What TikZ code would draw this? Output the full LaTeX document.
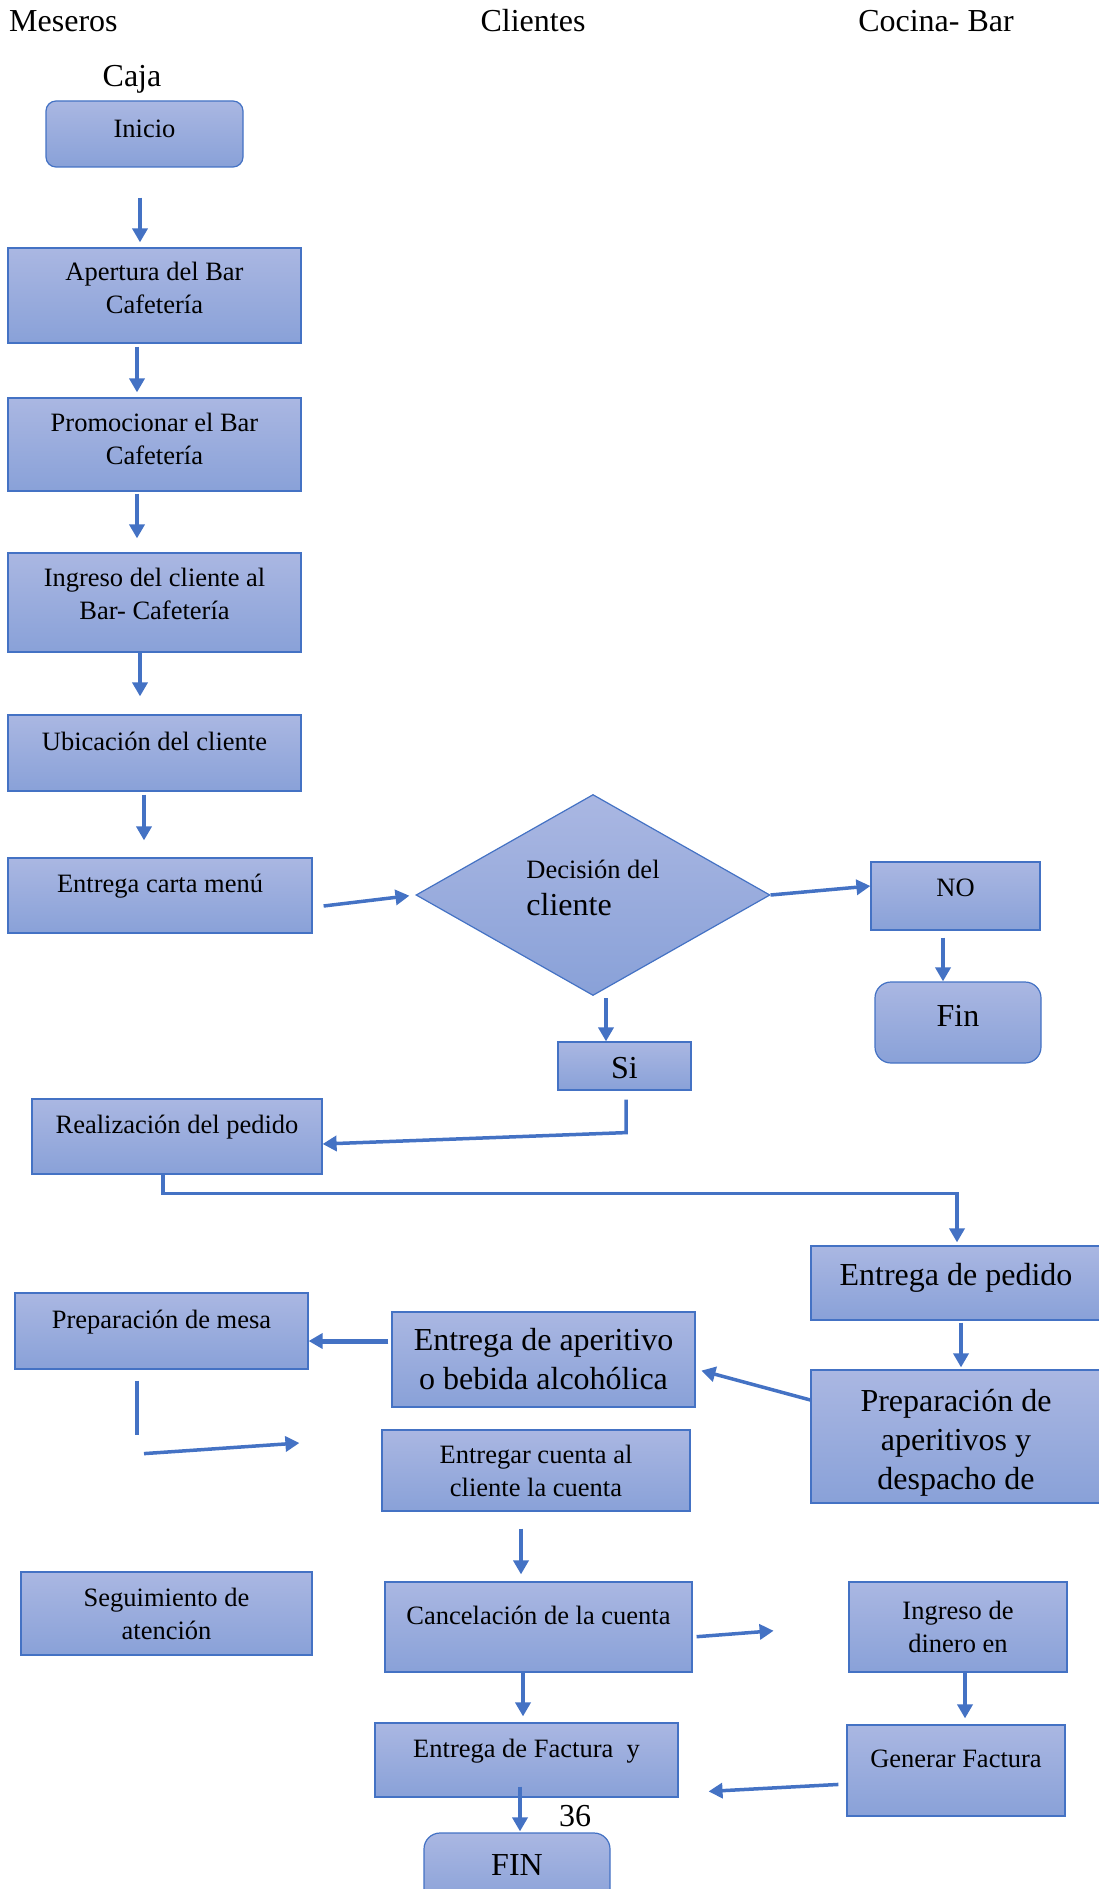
\documentclass[tikz,border=0pt]{standalone}
\usepackage{fontspec}
\setmainfont{Liberation Serif}
\usepackage{tikz}
\usetikzlibrary{arrows.meta, positioning, calc, shapes.geometric}
\usepackage{xcolor}
\definecolor{boxline}{RGB}{68,114,196}
\definecolor{boxtop}{RGB}{170,183,226}
\definecolor{boxbot}{RGB}{137,161,216}
\newcommand{\smalltxt}{\fontsize{26.5}{33}\selectfont}
\newcommand{\bigtxt}{\fontsize{32}{39}\selectfont}

\tikzset{
  proc/.style={draw=boxline, line width=1.2pt, top color=boxtop, bottom color=boxbot,
    inner sep=0pt, align=center, font=\smalltxt},
  term/.style={proc, rounded corners=12pt},
  uptext/.style={text height=19pt, text depth=25pt},
  flow/.style={draw=boxline, line width=3.5pt, -{Triangle[length=14pt,width=15pt]}},
  lane/.style={font=\bigtxt, inner sep=0pt, anchor=base}
}

\begin{document}
\begin{tikzpicture}[x=1pt, y=-1pt]
  \useasboundingbox (0,0) rectangle (1099,1889);

  % encabezados
  \node[lane, anchor=base west] (meseros) at (9,32) {Meseros};
  \node[lane] (clientes) at (533,32) {Clientes};
  \node[lane] (cocina) at (936,32) {Cocina- Bar};
  \node[lane] (caja) at (132,87) {Caja};

  % columna izquierda
  \node[term, rounded corners=10pt, minimum width=197pt, minimum height=66pt, text height=18pt, text depth=10pt] (inicio) at (144.5,134) {Inicio};
  \node[proc, minimum width=293pt, minimum height=95pt, text height=51pt, text depth=16pt] (apertura) at (154.5,295.5) {Apertura del Bar\\Cafetería};
  \node[proc, minimum width=293pt, minimum height=93pt, text height=51pt, text depth=12pt] (promo) at (154.5,444.5) {Promocionar el Bar\\Cafetería};
  \node[proc, minimum width=293pt, minimum height=99pt, text height=51pt, text depth=18pt] (ingreso) at (154.5,602.5) {Ingreso del cliente al\\Bar- Cafetería};
  \node[proc, uptext, minimum width=293pt, minimum height=76pt] (ubicacion) at (154.5,753) {Ubicación del cliente};
  \node[proc, uptext, minimum width=304pt, minimum height=75pt] (carta) at (160,895.5) {Entrega carta menú};

  % decision
  \node[proc, diamond, aspect=1.76, minimum width=354pt, minimum height=201pt, align=left, text height=55pt, text depth=15pt] (decision) at (593,895) {Decisión del\\[4pt]\bigtxt cliente};
  \node[proc, minimum width=169pt, minimum height=68pt, text height=19pt, text depth=19pt] (no) at (955.5,896) {NO};
  \node[term, font=\bigtxt, rounded corners=16pt, minimum width=166pt, minimum height=81pt, text height=21pt, text depth=14pt] (fin) at (958,1022.5) {Fin};
  \node[proc, font=\bigtxt, minimum width=133pt, minimum height=48pt, text height=30pt, text depth=5pt] (si) at (624.5,1066) {Si};

  % pedido
  \node[proc, uptext, minimum width=290pt, minimum height=75pt] (realizacion) at (177,1136.5) {Realización del pedido};
  \node[proc, font=\bigtxt, text height=22pt, text depth=18pt, minimum width=290pt, minimum height=74pt] (pedido) at (956,1283) {Entrega de pedido};
  \node[proc, uptext, minimum width=293pt, minimum height=76pt] (mesa) at (161.5,1331) {Preparación de mesa};
  \node[proc, font=\bigtxt, minimum width=303pt, minimum height=95pt] (aperitivo) at (543.5,1359.5) {Entrega de aperitivo\\o bebida alcohólica};
  \node[proc, font=\bigtxt, minimum width=290pt, minimum height=133pt, text height=110pt, text depth=5pt] (prepaper) at (956,1436.5) {Preparación de\\aperitivos y\\despacho de};
  \node[proc, minimum width=308pt, minimum height=81pt] (cuenta) at (536,1470.5) {Entregar cuenta al\\cliente la cuenta};

  % cobro
  \node[proc, minimum width=291pt, minimum height=83pt] (seguimiento) at (166.5,1613.5) {Seguimiento de\\atención};
  \node[proc, uptext, minimum width=307pt, minimum height=90pt] (cancelacion) at (538.5,1627) {Cancelación de la cuenta};
  \node[proc, minimum width=218pt, minimum height=90pt] (dinero) at (958,1627) {Ingreso de\\dinero en};
  \node[proc, uptext, minimum width=218pt, minimum height=91pt] (generar) at (956,1770.5) {Generar Factura};
  \node[proc, uptext, minimum width=303pt, minimum height=74pt] (factura) at (526.5,1760) {Entrega de Factura\ \ y};
  \node[term, font=\bigtxt, rounded corners=16pt, minimum width=186pt, minimum height=72pt, text height=21pt, text depth=9pt] (finend) at (517,1869) {FIN};
  \node[lane] (pagina) at (575,1826) {36};

  % flechas
  \draw[flow, shorten <=30pt, shorten >=5pt] ([xshift=-4.5pt]inicio.south) -- ([xshift=-14.5pt]apertura.north);
  \draw[flow, shorten <=3pt, shorten >=5pt] ([xshift=-17.5pt]apertura.south) -- ([xshift=-17.5pt]promo.north);
  \draw[flow, shorten <=2pt, shorten >=14pt] ([xshift=-17.5pt]promo.south) -- ([xshift=-17.5pt]ingreso.north);
  \draw[flow, shorten >=18pt] ([xshift=-14.5pt]ingreso.south) -- ([xshift=-14.5pt]ubicacion.north);
  \draw[flow, shorten <=3pt, shorten >=17pt] ([xshift=-10.5pt]ubicacion.south) -- ([xshift=-16pt]carta.north);
  \draw[flow, shorten >=6pt] ([shift={(11pt,-10.5pt)}]carta.east) -- (decision.west);
  \draw[flow] (decision.east) -- ([yshift=10pt]no.west);
  \draw[flow, shorten <=7pt] ([xshift=-12.5pt]no.south) -- ([xshift=-15pt]fin.north);
  \draw[flow, shorten <=2pt] ([xshift=13pt]decision.south) -- ([xshift=-18.5pt]si.north);
  \draw[flow, shorten <=9pt] ([xshift=1.5pt]si.south) -- ++(0,42) -- ([yshift=-7.5pt]realizacion.east);
  \draw[flow, shorten >=3pt] ([xshift=-14pt]realizacion.south) -- ++(0,19) -| ([xshift=1pt]pedido.north);
  \draw[flow, shorten <=2pt, shorten >=2pt] ([xshift=5pt]pedido.south) -- ([xshift=5pt]prepaper.north);
  \draw[flow, shorten >=6pt] ([yshift=36.5pt]prepaper.west) -- ([yshift=-9.5pt]aperitivo.east);
  \draw[flow, line width=5pt, shorten <=3pt] ([yshift=18.5pt]aperitivo.west) -- ([yshift=-10pt]mesa.east);
  \draw[draw=boxline, line width=3.5pt, shorten <=11pt] ([xshift=-24.5pt]mesa.south) -- ++(0,65);
  \draw[flow] ([shift={(-17.5pt,-84pt)}]mesa.south) -- ([shift={(-82pt,27.5pt)}]cuenta.west);
  \draw[flow, shorten <=17pt, shorten >=7pt] ([xshift=-15pt]cuenta.south) -- ([xshift=-17.5pt]cancelacion.north);
  \draw[flow, shorten <=4pt, shorten >=75pt] ([yshift=-10pt]cancelacion.east) -- ([yshift=2pt]dinero.west);
  \draw[flow, shorten >=6pt] ([xshift=7pt]dinero.south) -- ([xshift=9pt]generar.north);
  \draw[flow, shorten <=8pt, shorten >=30pt] ([yshift=-13.5pt]generar.west) -- ([yshift=-33pt]factura.east);
  \draw[flow, shorten >=6pt] ([xshift=-15.5pt]cancelacion.south) -- ([xshift=-3.5pt]factura.north);
  \draw[flow, shorten >=1pt] ([shift={(-6.5pt,11pt)}]factura.south) -- ([xshift=3pt]finend.north);
\end{tikzpicture}
\end{document}
